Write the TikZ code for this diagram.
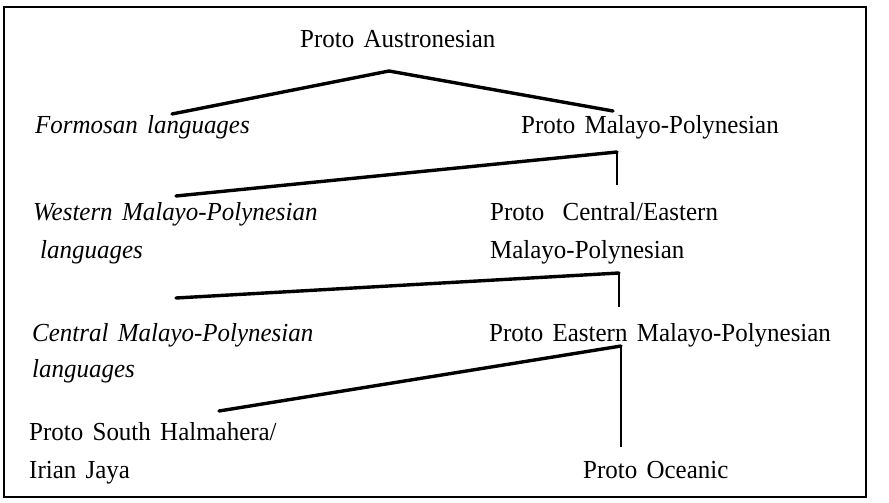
\documentclass[tikz,border=0pt]{standalone}
\usepackage{fontspec}
\setmainfont{Liberation Serif}[WordSpace=1.5, FakeStretch=0.96]
\begin{document}
\begin{tikzpicture}[x=1pt,y=-1pt,
  lbl/.style={anchor=base west, inner sep=0pt, font=\fontsize{26}{30}\selectfont},
  itl/.style={anchor=base west, inner sep=0pt, font=\fontsize{26}{30}\selectfont\itshape},
  branch/.style={line width=3.4pt, line cap=round, line join=round},
  stem/.style={line width=1.6pt},
  frame/.style={line width=2.2pt}]
\useasboundingbox (0,0) rectangle (889,503);
\draw[frame] (4,7) rectangle (866,497);
% texts
\node[lbl] (pan) at (300,48) {Proto Austronesian};
\node[itl] (form) at (35,133) {Formosan languages};
\node[lbl] (pmp) at (521,133) {Proto Malayo-Polynesian};
\node[itl] (wmp1) at (33,220) {Western Malayo-Polynesian};
\node[itl] (wmp2) at (40,258) {languages};
\node[lbl] (pcemp1) at (490,220) {Proto\hspace{0.35em} Central/Eastern};
\node[lbl] (pcemp2) at (490,258) {Malayo-Polynesian};
\node[itl] (cmp1) at (32,341) {Central Malayo-Polynesian};
\node[itl] (cmp2) at (32,377) {languages};
\node[lbl] (pemp) at (489,341) {Proto Eastern Malayo-Polynesian};
\node[lbl] (pshwng1) at (29,440) {Proto South Halmahera/};
\node[lbl] (pshwng2) at (29,478) {Irian Jaya};
\node[lbl] (poc) at (583,478) {Proto Oceanic};
% branch points
\coordinate (a1) at (389,71);
\coordinate (f1) at (172,114);
\coordinate (m1) at (613,111);
\coordinate (a2) at (617,152);
\coordinate (w2) at (176,196);
\coordinate (c2) at (617,185);
\coordinate (a3) at (619,273);
\coordinate (w3) at (176,298);
\coordinate (c3) at (619,307);
\coordinate (a4) at (621,346);
\coordinate (w4) at (219,411);
\coordinate (c4) at (621,447);
% connectors
\draw[branch] (f1) -- (a1) -- (m1);
\draw[branch] (w2) -- (a2);
\draw[stem] (a2) -- (c2);
\draw[branch] (w3) -- (a3);
\draw[stem] (a3) -- (c3);
\draw[branch] (w4) -- (a4);
\draw[stem] (a4) -- (c4);
\end{tikzpicture}
\end{document}
